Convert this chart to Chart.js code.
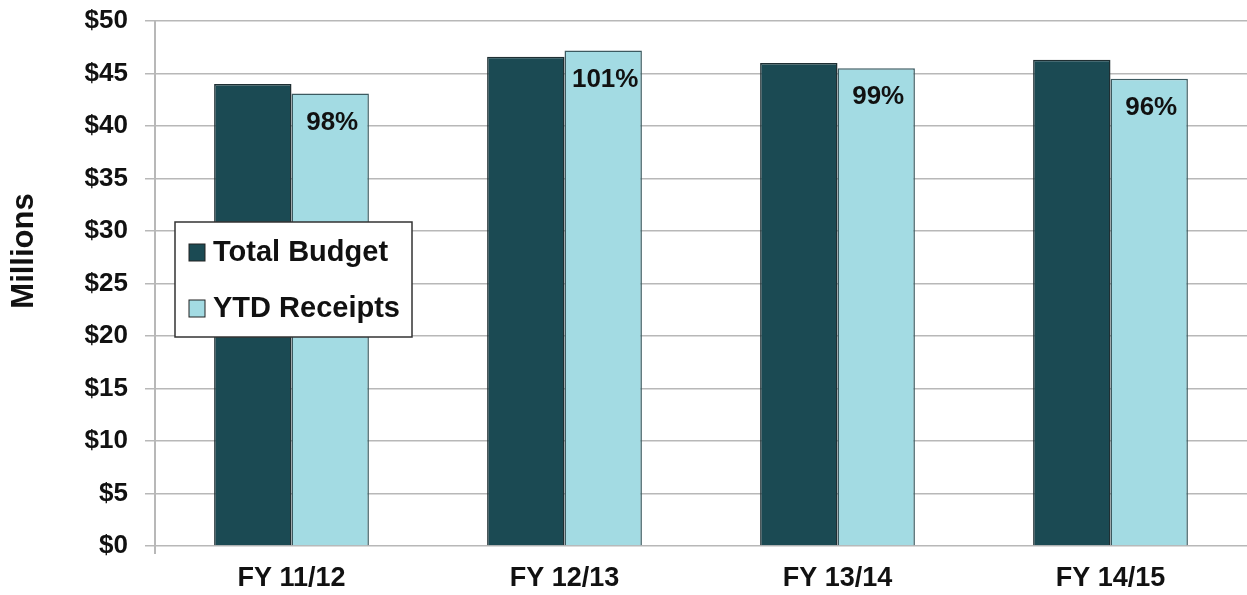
<!DOCTYPE html>
<html>
<head>
<meta charset="utf-8">
<script src="https://cdn.jsdelivr.net/npm/chart.js@4.4.1/dist/chart.umd.min.js"></script>
<style>
  html, body { margin: 0; padding: 0; background: #fff; }
  #wrap { width: 1247px; height: 595px; }
</style>
</head>
<body>
<div id="wrap"><canvas id="budgetChart"></canvas></div>
<script>
const fiscalYears = ['FY 11/12', 'FY 12/13', 'FY 13/14', 'FY 14/15']
const totalBudget = [44.0, 46.6, 46.0, 46.3]
const ytdReceipts = [43.1, 47.2, 45.5, 44.5]
const seriesNames = ['Total Budget', 'YTD Receipts']
const axisTitle = 'Millions'

const FONT = "'Liberation Sans', Arial, sans-serif"
const DARK = '#1b4a53'
const LIGHT = '#a3dbe3'
const GRID = '#b8b8b8'

// percent of budget collected, written inside the top of each receipts bar
const percentLabels = {
    id: 'percentLabels',
    afterDatasetsDraw(chart) {
        const ctx = chart.ctx
        const meta = chart.getDatasetMeta(1)
        ctx.save()
        ctx.font = 'bold 26px ' + FONT
        ctx.fillStyle = '#111'
        ctx.textAlign = 'center'
        ctx.textBaseline = 'middle'
        meta.data.forEach((bar, i) => {
            const pct = Math.round(ytdReceipts[i] / totalBudget[i] * 100)
            ctx.fillText(pct + '%', bar.x + 2, bar.y + 29)
        })
        ctx.restore()
    }
}

// boxed legend sitting over the first group of bars
const boxLegend = {
    id: 'boxLegend',
    afterDatasetsDraw(chart) {
        const ctx = chart.ctx
        const x = 175, y = 222, w = 237, h = 115
        ctx.save()
        ctx.fillStyle = '#fff'
        ctx.fillRect(x, y, w, h)
        ctx.strokeStyle = '#333'
        ctx.lineWidth = 1.5
        ctx.strokeRect(x, y, w, h)
        ctx.font = 'bold 29px ' + FONT
        ctx.textBaseline = 'middle'
        chart.data.datasets.forEach((ds, i) => {
            const cy = y + 30 + i * 56
            ctx.fillStyle = ds.backgroundColor
            ctx.fillRect(x + 14, cy - 8, 16, 17)
            ctx.strokeStyle = '#222'
            ctx.lineWidth = 1
            ctx.strokeRect(x + 14, cy - 8, 16, 17)
            ctx.fillStyle = '#111'
            ctx.fillText(ds.label, x + 38, cy + 1)
        })
        ctx.restore()
    }
}

// rotated y axis title, a little above the middle of the axis
const yTitle = {
    id: 'yTitle',
    afterDraw(chart) {
        const ctx = chart.ctx
        ctx.save()
        ctx.translate(24, 251)
        ctx.rotate(-Math.PI / 2)
        ctx.font = 'bold 31px ' + FONT
        ctx.fillStyle = '#111'
        ctx.textAlign = 'center'
        ctx.textBaseline = 'middle'
        ctx.fillText(axisTitle, 0, 0)
        ctx.restore()
    }
}

const ctx = document.getElementById('budgetChart')
new Chart(ctx, {
    type: 'bar',
    data: {
        labels: fiscalYears,
        datasets: [
            {
                label: seriesNames[0],
                data: totalBudget,
                backgroundColor: DARK,
                borderColor: '#1f2f33',
                borderWidth: 1.5,
                borderSkipped: 'bottom'
            },
            {
                label: seriesNames[1],
                data: ytdReceipts,
                backgroundColor: LIGHT,
                borderColor: '#3c5a60',
                borderWidth: 1.5,
                borderSkipped: 'bottom'
            }
        ]
    },
    options: {
        responsive: true,
        maintainAspectRatio: false,
        animation: false,
        categoryPercentage: 0.567,
        barPercentage: 1.0,
        layout: { padding: { top: 21, right: 0, bottom: 0, left: 0 } },
        plugins: {
            legend: { display: false },
            tooltip: { enabled: false }
        },
        scales: {
            x: {
                // only the first boundary tick shows, continuing the y axis line below zero
                grid: {
                    display: true,
                    drawOnChartArea: false,
                    tickLength: 8,
                    lineWidth: 2,
                    color: (c) => c.index === 0 ? GRID : 'rgba(0,0,0,0)'
                },
                border: { display: false },
                ticks: {
                    color: '#111',
                    font: { family: FONT, size: 27, weight: 'bold' },
                    padding: 8
                },
                afterFit: (scale) => { scale.height = 49 }
            },
            y: {
                min: 0,
                max: 50,
                ticks: {
                    stepSize: 5,
                    color: '#111',
                    font: { family: FONT, size: 26, weight: 'bold' },
                    padding: 17,
                    callback: (v) => '$' + v
                },
                grid: { color: GRID, lineWidth: 1.5, tickLength: 10 },
                border: { color: GRID, width: 2 },
                afterFit: (scale) => {
                    scale.width = 155
                    scale.paddingTop = 0
                    scale.paddingBottom = 0
                }
            }
        }
    },
    plugins: [percentLabels, boxLegend, yTitle]
})
</script>
</body>
</html>
